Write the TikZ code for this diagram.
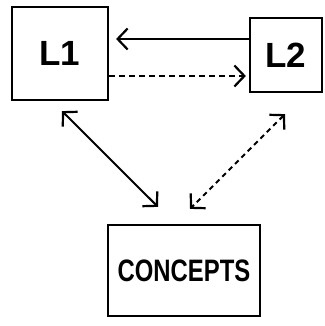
\documentclass[tikz,border=0pt]{standalone}
\usepackage{fontspec}
\setmainfont{Liberation Sans}
\usetikzlibrary{arrows.meta,calc}
\tikzset{barb/.tip={Straight Barb[length=10pt,width=21pt,line width=2.2pt]}}
\begin{document}
\begin{tikzpicture}[x=1pt,y=1pt,
  box/.style={draw,line width=2.2pt,inner sep=0pt,font=\bfseries\fontsize{35}{35}\selectfont},
  link/.style={line width=2pt},
  dashedlink/.style={link,dash pattern=on 6pt off 4pt}]
\useasboundingbox (0,0) rectangle (324,326);
\node[box,minimum width=96pt,minimum height=93pt] (L1) at (60,272.5) {L1};
\node[box,minimum width=72pt,minimum height=74pt] (L2) at (286,271) {L2};
\node[box,minimum width=152pt,minimum height=91pt,
      font=\bfseries\fontsize{31}{31}\selectfont] (C) at (184,55.5)
      {\scalebox{0.77}[1]{CONCEPTS}};
% horizontal links between L1 and L2
\draw[link,-barb,shorten >=7pt] ([yshift=16pt]L2.west) -- ([yshift=16pt]L2.west -| L1.east);
\draw[dashedlink,-barb,shorten >=3pt] ([yshift=-22.5pt]L1.east) -- ([yshift=-22.5pt]L1.east -| L2.west);
% diagonal links to CONCEPTS
\draw[link,barb-barb] ([shift={(2pt,-10pt)}]L1.south) -- ([shift={(-26pt,17pt)}]C.north);
\draw[link,dash pattern=on 5pt off 4pt,barb-barb] ([shift={(-1pt,-21pt)}]L2.south) -- ([shift={(6pt,15pt)}]C.north);
\end{tikzpicture}
\end{document}
